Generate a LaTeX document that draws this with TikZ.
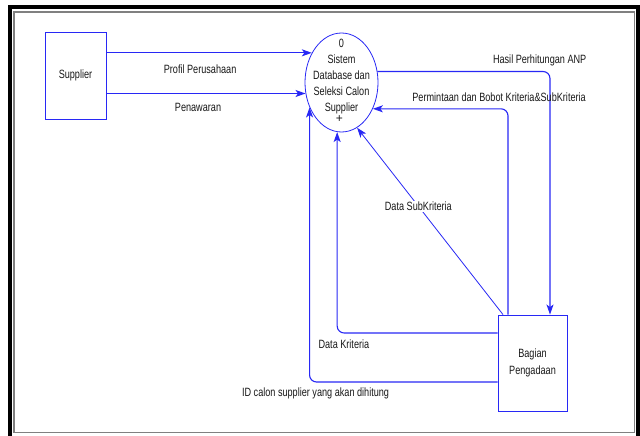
\documentclass[tikz,border=0pt]{standalone}
\usepackage{graphicx}
\usepackage{fontspec}
\setmainfont{Liberation Sans}
\usetikzlibrary{shapes.geometric,arrows.meta}
\definecolor{dfdblue}{RGB}{40,40,245}
\definecolor{framegray}{RGB}{128,128,128}
\newcommand{\sq}[1]{\scalebox{0.76}[1]{#1}}
\begin{document}
\begin{tikzpicture}[x=1pt,y=-1pt,
  flow/.style={draw=dfdblue, line width=1.1pt, -{Stealth[length=10pt,width=7pt,inset=2.5pt]}},
  ent/.style={draw=dfdblue, line width=0.9pt, rectangle, inner sep=0pt, align=center, font=\fontsize{12}{17}\selectfont, text=black!90},
  proc/.style={draw=dfdblue, line width=0.8pt, ellipse, inner sep=0pt, minimum width=73pt, minimum height=99pt},
  lbl/.style={font=\fontsize{12}{14}\selectfont, inner sep=1pt, text=black!90}]
\useasboundingbox (0,0) rectangle (640,436);
\fill[white] (0,0) rectangle (640,436);
\draw[line width=4pt] (10,436) -- (10,7) -- (638,7) -- (638,436);
\draw[framegray, line width=1.5pt] (14,12) rectangle (634.5,432.5);

\node[ent, minimum width=61pt, minimum height=87pt] (sup) at (75.5,75.5) {\sq{Supplier}};
\node[proc] (sys) at (341.5,82.5) {};
\node[font=\fontsize{12}{16}\selectfont, align=center, inner sep=0pt, text=black!90] (systext) at (341.5,77) {\sq{0}\\\sq{Sistem}\\\sq{Database dan}\\\sq{Seleksi Calon}\\\sq{Supplier}};
\node[font=\fontsize{12}{14}\selectfont, inner sep=0pt, text=black!90] (plus) at (339.5,119) {+};
\node[ent, minimum width=69pt, minimum height=96pt] (bp) at (532.5,363) {\sq{Bagian}\\\sq{Pengadaan}};

\coordinate (hx) at (550,0);
\coordinate (px) at (508,0);
\coordinate (sx) at (503,0);
\coordinate (ky) at (0,333);
\coordinate (iy) at (0,382);

\draw[flow] (sup.east |- sys.135) -- node[lbl, pos=0.456, yshift=-16pt] (lProfil) {\sq{Profil Perusahaan}} (sys.135);
\draw[flow] (sup.east |- sys.197) -- node[lbl, pos=0.46, yshift=-13.5pt] (lPenawaran) {\sq{Penawaran}} (sys.197);
\draw[flow, rounded corners=7pt] (sys.17) -| node[lbl, pos=0.47, yshift=11pt] (lHasil) {\sq{Hasil Perhitungan ANP}} (bp.north -| hx);
\draw[flow, rounded corners=7pt] (bp.north -| px) |- node[lbl, pos=0.533, yshift=11.5pt] (lPermintaan) {\sq{Permintaan dan Bobot Kriteria\&SubKriteria}} (sys.-40);
\draw[flow, line width=0.8pt] (bp.north -| sx) -- node[lbl, pos=0.58, fill=white] (lSub) {\sq{Data SubKriteria}} (sys.-71);
\draw[flow, rounded corners=7pt] (bp.west |- ky) -| node[lbl, pos=0.479, yshift=-11pt] (lKrit) {\sq{Data Kriteria}} (sys.-95);
\draw[flow, rounded corners=7pt] (bp.west |- iy) -| node[lbl, pos=0.484, yshift=-11pt] (lID) {\sq{ID calon supplier yang akan dihitung}} (sys.218);
\end{tikzpicture}
\end{document}
